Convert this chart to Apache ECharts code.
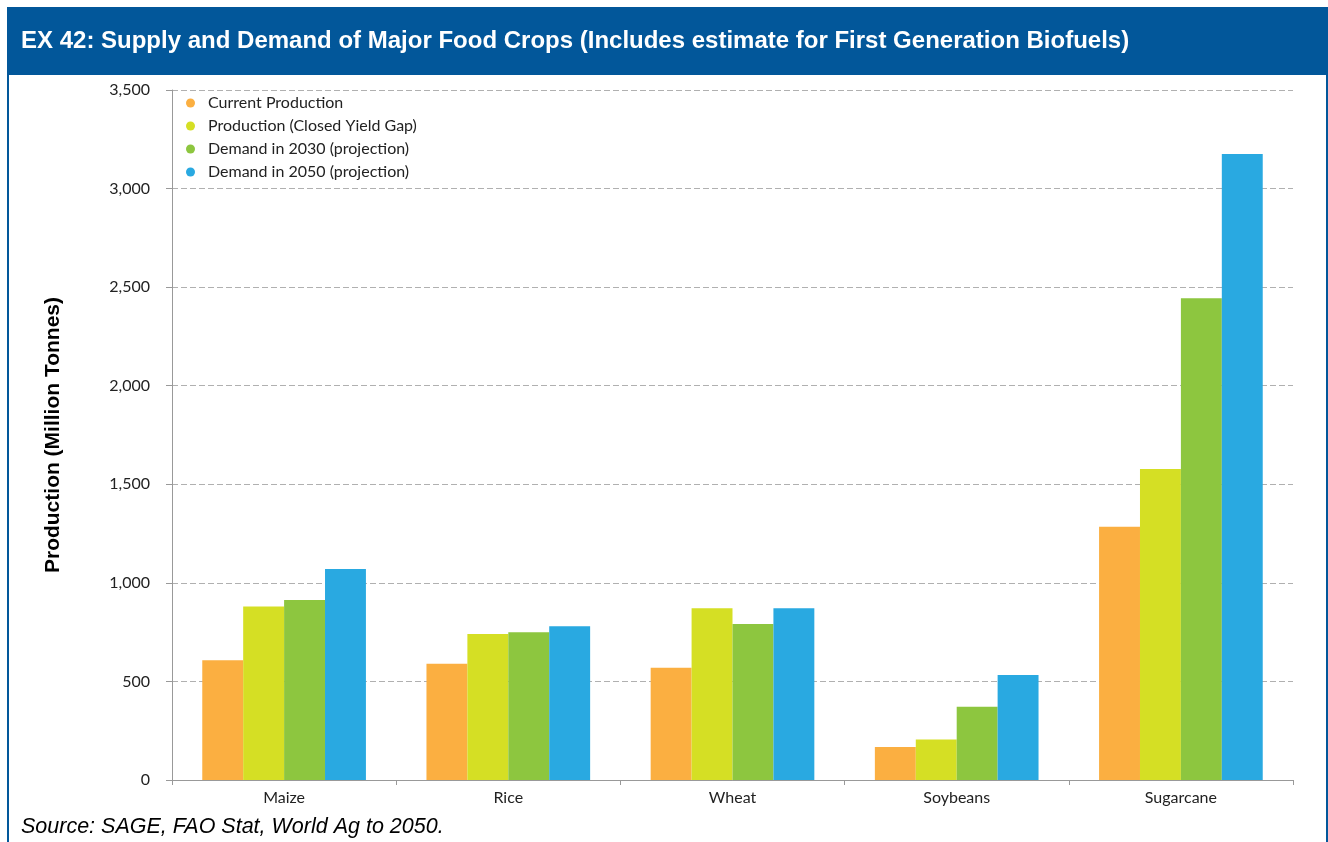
<!DOCTYPE html>
<html>
<head>
<meta charset="utf-8">
<script src="https://cdn.jsdelivr.net/npm/echarts@6/dist/echarts.min.js"></script>
<style>
html,body{margin:0;padding:0;background:#fff;}
#chart{width:1328px;height:842px;}
</style>
</head>
<body>
<div id="chart"></div>
<script>
const titleText = 'EX 42: Supply and Demand of Major Food Crops (Includes estimate for First Generation Biofuels)';
const sourceText = 'Source: SAGE, FAO Stat, World Ag to 2050.';
const yAxisName = 'Production (Million Tonnes)';
const categories = ['Maize', 'Rice', 'Wheat', 'Soybeans', 'Sugarcane'];
const seriesNames = ['Current Production', 'Production (Closed Yield Gap)', 'Demand in 2030 (projection)', 'Demand in 2050 (projection)'];
const currentProduction = [608, 590, 570, 168, 1285];
const closedYieldGap = [880, 741, 871, 205, 1578];
const demand2030 = [913, 749, 791, 372, 2444];
const demand2050 = [1070, 780, 871, 532, 3175];
const seriesColors = ['#FBAF41', '#D5DF24', '#8DC63F', '#29A9E1'];
const yTicks = { min: 0, max: 3500, interval: 500 };

const chart = echarts.init(document.getElementById('chart'), null, { renderer: 'canvas' });
const dataSets = [currentProduction, closedYieldGap, demand2030, demand2050];
const labelFont = 'Lato, "DejaVu Sans", sans-serif';

const option = {
  backgroundColor: '#ffffff',
  animation: false,
  graphic: [
    { type: 'rect', shape: { x: 7, y: 7, width: 1321, height: 68 }, style: { fill: '#02579A' }, z: 10 },
    { type: 'rect', shape: { x: 7, y: 7, width: 2, height: 835 }, style: { fill: '#02579A' }, z: 10 },
    { type: 'rect', shape: { x: 1326, y: 7, width: 2, height: 835 }, style: { fill: '#02579A' }, z: 10 },
    { type: 'text', left: 21, top: 29, z: 11,
      style: { text: titleText, fill: '#ffffff', font: 'bold 24px "Liberation Sans", Arial, sans-serif' } },
    { type: 'text', left: 21, top: 816, z: 11,
      style: { text: sourceText, fill: '#000000', font: 'italic 21.5px "Liberation Sans", Arial, sans-serif' } }
  ],
  legend: {
    show: true,
    orient: 'vertical',
    left: 181,
    top: 90,
    padding: 5,
    icon: 'circle',
    itemWidth: 9,
    itemHeight: 9,
    itemGap: 7,
    textStyle: { fontFamily: labelFont, fontSize: 16, color: '#222', lineHeight: 16, padding: [0, 0, 0, 8] },
    data: seriesNames
  },
  grid: { left: 172, right: 35, top: 90, bottom: 62, containLabel: false },
  xAxis: {
    type: 'category',
    data: categories,
    axisLine: { lineStyle: { color: '#999', width: 1 } },
    axisTick: { show: true, length: 5, lineStyle: { color: '#999' } },
    axisLabel: { margin: 10, fontFamily: labelFont, fontSize: 16, color: '#222' }
  },
  yAxis: {
    type: 'value',
    min: yTicks.min,
    max: yTicks.max,
    interval: yTicks.interval,
    name: yAxisName,
    nameLocation: 'middle',
    nameGap: 108,
    nameRotate: 90,
    nameTextStyle: { fontFamily: '"Liberation Sans", Arial, sans-serif', fontWeight: 'bold', fontSize: 21, color: '#000' },
    axisLine: { show: true, lineStyle: { color: '#999', width: 1 } },
    axisTick: { show: true, length: 6, lineStyle: { color: '#999' } },
    axisLabel: {
      margin: 22,
      fontFamily: labelFont, fontSize: 16, color: '#222',
      formatter: v => v.toLocaleString('en-US')
    },
    splitLine: { show: true, lineStyle: { color: '#b0b0b0', type: [6, 3], width: 1 } }
  },
  series: seriesNames.map((name, i) => ({
    name: name,
    type: 'bar',
    data: dataSets[i],
    itemStyle: { color: seriesColors[i] },
    barGap: '0%',
    barCategoryGap: '27%'
  }))
};
chart.setOption(option);
</script>
</body>
</html>
